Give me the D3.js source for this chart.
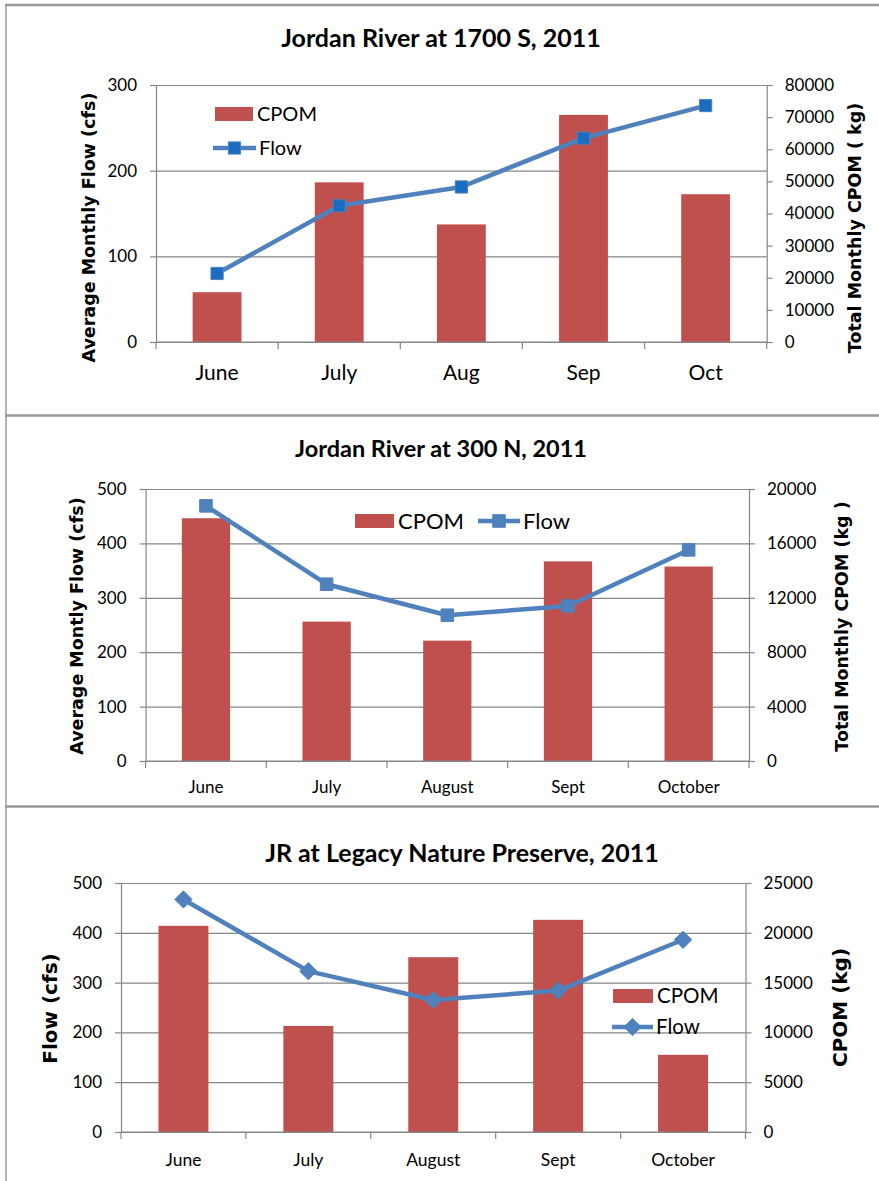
<!DOCTYPE html>
<html>
<head>
<meta charset="utf-8">
<script src="https://cdn.jsdelivr.net/npm/d3@7/dist/d3.min.js"></script>
<style>
  body { margin: 0; background: #fff; }
  svg { display: block; }
  .calib { font-family: Lato, "Open Sans", sans-serif; }
</style>
</head>
<body>
<svg id="chart" width="879" height="1181"></svg>
<script>
// --- data ---
const months1 = ["June", "July", "Aug", "Sep", "Oct"];
const cpom1 = [15500, 49700, 36600, 70700, 46000];   // kg, right axis
const flow1 = [80, 159, 181, 238, 276];               // cfs, left axis
const flowTicks1 = [0, 100, 200, 300];
const cpomTicks1 = [0, 10000, 20000, 30000, 40000, 50000, 60000, 70000, 80000];

const months2 = ["June", "July", "August", "Sept", "October"];
const cpom2 = [17850, 10250, 8850, 14680, 14300];
const flow2 = [469, 325, 268, 285, 388];
const flowTicks2 = [0, 100, 200, 300, 400, 500];
const cpomTicks2 = [0, 4000, 8000, 12000, 16000, 20000];

const months3 = ["June", "July", "August", "Sept", "October"];
const cpom3 = [20700, 10650, 17550, 21300, 7750];
const flow3 = [467, 323, 265, 284, 386];
const flowTicks3 = [0, 100, 200, 300, 400, 500];
const cpomTicks3 = [0, 5000, 10000, 15000, 20000, 25000];

const BAR = "#C0504D", LINE = "#4F81BD", AXIS = "#868686", FRAME = "#9a9a9a";

const svg = d3.select("#chart");

// panel frames
svg.append("line").attr("x1", 6).attr("x2", 6).attr("y1", 4).attr("y2", 1181)
  .attr("stroke", FRAME).attr("stroke-width", 1.5);
[5, 415.5, 806.5].forEach(y => {
  svg.append("line").attr("x1", 5).attr("x2", 879).attr("y1", y).attr("y2", y)
    .attr("stroke", FRAME).attr("stroke-width", 2.5);
});

function drawPanel(cfg) {
  const g = svg.append("g");
  const x = d3.scaleBand().domain(cfg.months).range([cfg.left, cfg.right]).paddingInner(0).paddingOuter(0);
  const yL = d3.scaleLinear().domain([0, d3.max(cfg.flowTicks)]).range([cfg.bottom, cfg.top]);
  const yR = d3.scaleLinear().domain([0, d3.max(cfg.cpomTicks)]).range([cfg.bottom, cfg.top]);
  const bw = x.step() * 0.4;

  // gridlines (from left axis)
  g.append("g").attr("transform", `translate(${cfg.left},0)`)
    .call(d3.axisLeft(yL).tickValues(cfg.flowTicks).tickSize(-(cfg.right - cfg.left)).tickFormat(""))
    .call(s => s.select(".domain").remove())
    .selectAll("line").attr("stroke", AXIS).attr("stroke-width", 1.2);

  // bars
  g.append("g").selectAll("rect")
    .data(cfg.cpom)
    .enter().append("rect")
      .attr("x", (d, i) => x(cfg.months[i]) + (x.step() - bw) / 2)
      .attr("y", d => yR(d))
      .attr("width", bw)
      .attr("height", d => cfg.bottom - yR(d))
      .attr("fill", BAR);

  // left axis
  const la = g.append("g").attr("transform", `translate(${cfg.left},0)`)
    .call(d3.axisLeft(yL).tickValues(cfg.flowTicks).tickSize(6).tickPadding(13).tickSizeOuter(0));
  // right axis
  const ra = g.append("g").attr("transform", `translate(${cfg.right},0)`)
    .call(d3.axisRight(yR).tickValues(cfg.cpomTicks).tickSize(6).tickPadding(12).tickSizeOuter(0).tickFormat(d3.format("d")));
  [la, ra].forEach(a => {
    a.select(".domain").attr("stroke", AXIS).attr("stroke-width", 1.2);
    a.selectAll(".tick line").attr("stroke", AXIS).attr("stroke-width", 1.2);
    a.selectAll("text").attr("class", "calib").attr("font-size", cfg.tickFont).attr("fill", "#000");
  });

  // bottom axis: line + boundary ticks
  g.append("line").attr("x1", cfg.left).attr("x2", cfg.right)
    .attr("y1", cfg.bottom).attr("y2", cfg.bottom)
    .attr("stroke", AXIS).attr("stroke-width", 1.2);
  const bounds = cfg.months.map(m => x(m)).concat([cfg.right]);
  g.append("g").selectAll("line").data(bounds).enter().append("line")
    .attr("x1", d => d).attr("x2", d => d)
    .attr("y1", cfg.bottom).attr("y2", cfg.bottom + 7)
    .attr("stroke", AXIS).attr("stroke-width", 1.2);
  g.append("g").selectAll("text").data(cfg.months).enter().append("text")
    .attr("class", "calib")
    .attr("x", d => x(d) + x.step() / 2)
    .attr("y", cfg.bottom + cfg.catOffset)
    .attr("dy", "0.35em")
    .attr("text-anchor", "middle")
    .attr("font-size", cfg.catFont)
    .text(d => d);

  // flow line
  const pts = cfg.flow.map((v, i) => [x(cfg.months[i]) + x.step() / 2, yL(v)]);
  g.append("path").attr("d", d3.line()(pts))
    .attr("fill", "none").attr("stroke", LINE).attr("stroke-width", 4.5)
    .attr("stroke-linejoin", "round");
  const sym = d3.symbol().type(cfg.marker === "diamond" ? d3.symbolDiamond2 : d3.symbolSquare2).size(cfg.markerSize);
  g.append("g").selectAll("path").data(pts).enter().append("path")
    .attr("transform", d => `translate(${d[0]},${d[1]})`)
    .attr("d", sym)
    .attr("fill", cfg.markerFill).attr("stroke", LINE).attr("stroke-width", 1);

  // titles
  g.append("text").attr("class", "calib")
    .attr("x", cfg.title.x).attr("y", cfg.title.y).attr("dy", "0.35em")
    .attr("text-anchor", "middle").attr("font-weight", "bold").attr("font-size", cfg.title.size)
    .text(cfg.title.text);
  [cfg.yTitleL, cfg.yTitleR].forEach(t => {
    g.append("text")
      .attr("transform", `translate(${t.x},${t.y}) rotate(-90)`)
      .attr("dy", "0.35em").attr("text-anchor", "middle")
      .attr("font-family", "'DejaVu Sans', Verdana, sans-serif")
      .attr("font-weight", "bold").attr("font-size", t.size)
      .text(t.text);
  });

  // legend
  const L = cfg.legend;
  g.append("rect").attr("x", L.rx).attr("y", L.ry - 7).attr("width", L.rw).attr("height", 14).attr("fill", BAR);
  g.append("text").attr("class", "calib").attr("x", L.rx + L.rw + 4).attr("y", L.ry).attr("dy", "0.35em")
    .attr("font-size", L.size).text("CPOM");
  g.append("line").attr("x1", L.lx).attr("x2", L.lx + L.lw).attr("y1", L.ly).attr("y2", L.ly)
    .attr("stroke", LINE).attr("stroke-width", 4.5);
  g.append("path").attr("transform", `translate(${L.lx + L.lw / 2},${L.ly})`).attr("d", sym)
    .attr("fill", cfg.markerFill).attr("stroke", LINE).attr("stroke-width", 1);
  g.append("text").attr("class", "calib").attr("x", L.lx + L.lw + 3).attr("y", L.ly).attr("dy", "0.35em")
    .attr("font-size", L.size).text("Flow");
}

drawPanel({
  months: months1, cpom: cpom1, flow: flow1, flowTicks: flowTicks1, cpomTicks: cpomTicks1,
  left: 156, right: 766.7, top: 85, bottom: 342,
  tickFont: 17, catFont: 21, catOffset: 31,
  marker: "square", markerSize: 190, markerFill: "#1A6CC0",
  title: { text: "Jordan River at 1700 S, 2011", x: 441, y: 38, size: 25 },
  yTitleL: { text: "Average Monthly Flow (cfs)", x: 89, y: 227.5, size: 17.5 },
  yTitleR: { text: "Total Monthly CPOM ( kg)", x: 855, y: 228, size: 17.5 },
  legend: { rx: 215, ry: 114, rw: 38, lx: 213, ly: 148, lw: 43, size: 20 }
});

drawPanel({
  months: months2, cpom: cpom2, flow: flow2, flowTicks: flowTicks2, cpomTicks: cpomTicks2,
  left: 145.6, right: 749, top: 489, bottom: 761,
  tickFont: 17, catFont: 17, catOffset: 26,
  marker: "square", markerSize: 200, markerFill: LINE,
  title: { text: "Jordan River at 300 N, 2011", x: 441, y: 449, size: 23.5 },
  yTitleL: { text: "Average Montly Flow (cfs)", x: 77, y: 626, size: 17.5 },
  yTitleR: { text: "Total Monthly CPOM (kg )", x: 842, y: 626.5, size: 17.5 },
  legend: { rx: 355, ry: 521, rw: 39, lx: 478, ly: 521, lw: 42, size: 22 }
});

drawPanel({
  months: months3, cpom: cpom3, flow: flow3, flowTicks: flowTicks3, cpomTicks: cpomTicks3,
  left: 121, right: 745.5, top: 883, bottom: 1132,
  tickFont: 17, catFont: 17.5, catOffset: 28,
  marker: "diamond", markerSize: 190, markerFill: LINE,
  title: { text: "JR at Legacy Nature Preserve, 2011", x: 462, y: 853, size: 25 },
  yTitleL: { text: "Flow (cfs)", x: 50, y: 1008.5, size: 20 },
  yTitleR: { text: "CPOM (kg)", x: 840, y: 1007.5, size: 20 },
  legend: { rx: 613, ry: 996, rw: 40, lx: 612, ly: 1027, lw: 41, size: 20.5 }
});
</script>
</body>
</html>
